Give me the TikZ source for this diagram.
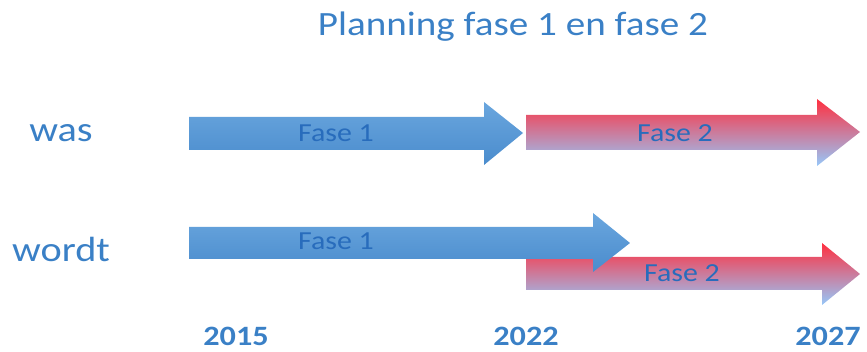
\documentclass[tikz,border=0pt]{standalone}
\usepackage{fontspec}
\setmainfont{Carlito}
\definecolor{txtblue}{RGB}{58,128,198}
\definecolor{lbldark}{RGB}{40,108,188}
\definecolor{bluetop}{RGB}{106,166,222}
\definecolor{bluebot}{RGB}{74,140,205}
\definecolor{redtop}{RGB}{255,48,64}
\definecolor{redbot}{RGB}{150,200,250}
\newcommand{\wide}[1]{\scalebox{1.15}[1]{#1}}
\tikzset{
  bluearrow/.style={top color=bluetop, bottom color=bluebot, draw=none},
  redarrow/.style={top color=redtop, bottom color=redbot, draw=none},
  titletxt/.style={text=txtblue, font=\fontsize{34}{40}\selectfont, anchor=base, inner sep=0pt},
  rowtxt/.style={text=txtblue, font=\fontsize{35}{40}\selectfont, anchor=base, inner sep=0pt},
  yeartxt/.style={text=txtblue, font=\bfseries\fontsize{28}{32}\selectfont, anchor=base, inner sep=0pt},
  fasetxt/.style={text=lbldark, font=\fontsize{26}{30}\selectfont, anchor=base, inner sep=0pt},
}
\begin{document}
\begin{tikzpicture}[x=1pt, y=-1pt]
\useasboundingbox (0,0) rectangle (867,352);
% top row
\path[bluearrow] (189,117) -- (484,117) -- (484,102) -- (523,133) -- (484,165) -- (484,150) -- (189,150) -- cycle;
\path[redarrow] (526,115) -- (817,115) -- (817,99) -- (860,132) -- (817,166) -- (817,150) -- (526,150) -- cycle;
% bottom row
\path[redarrow] (526,257) -- (822,257) -- (822,243) -- (860,274) -- (822,305) -- (822,290) -- (526,290) -- cycle;
\path[bluearrow] (189,227) -- (593,227) -- (593,213) -- (630,243) -- (593,272) -- (593,259) -- (189,259) -- cycle;
% texts
\node[titletxt] (title) at (513,36) {\wide{Planning fase 1 en fase 2}};
\node[rowtxt] (was) at (61,142) {\wide{was}};
\node[rowtxt] (wordt) at (61,262) {\wide{wordt}};
\node[fasetxt] (f1a) at (336,142) {\wide{Fase 1}};
\node[fasetxt] (f2a) at (675,142) {\wide{Fase 2}};
\node[fasetxt] (f1b) at (336,250) {\wide{Fase 1}};
\node[fasetxt] (f2b) at (682,282) {\wide{Fase 2}};
\node[yeartxt] (y1) at (236,345) {\wide{2015}};
\node[yeartxt] (y2) at (526,345) {\wide{2022}};
\node[yeartxt] (y3) at (828,345) {\wide{2027}};
\end{tikzpicture}
\end{document}
